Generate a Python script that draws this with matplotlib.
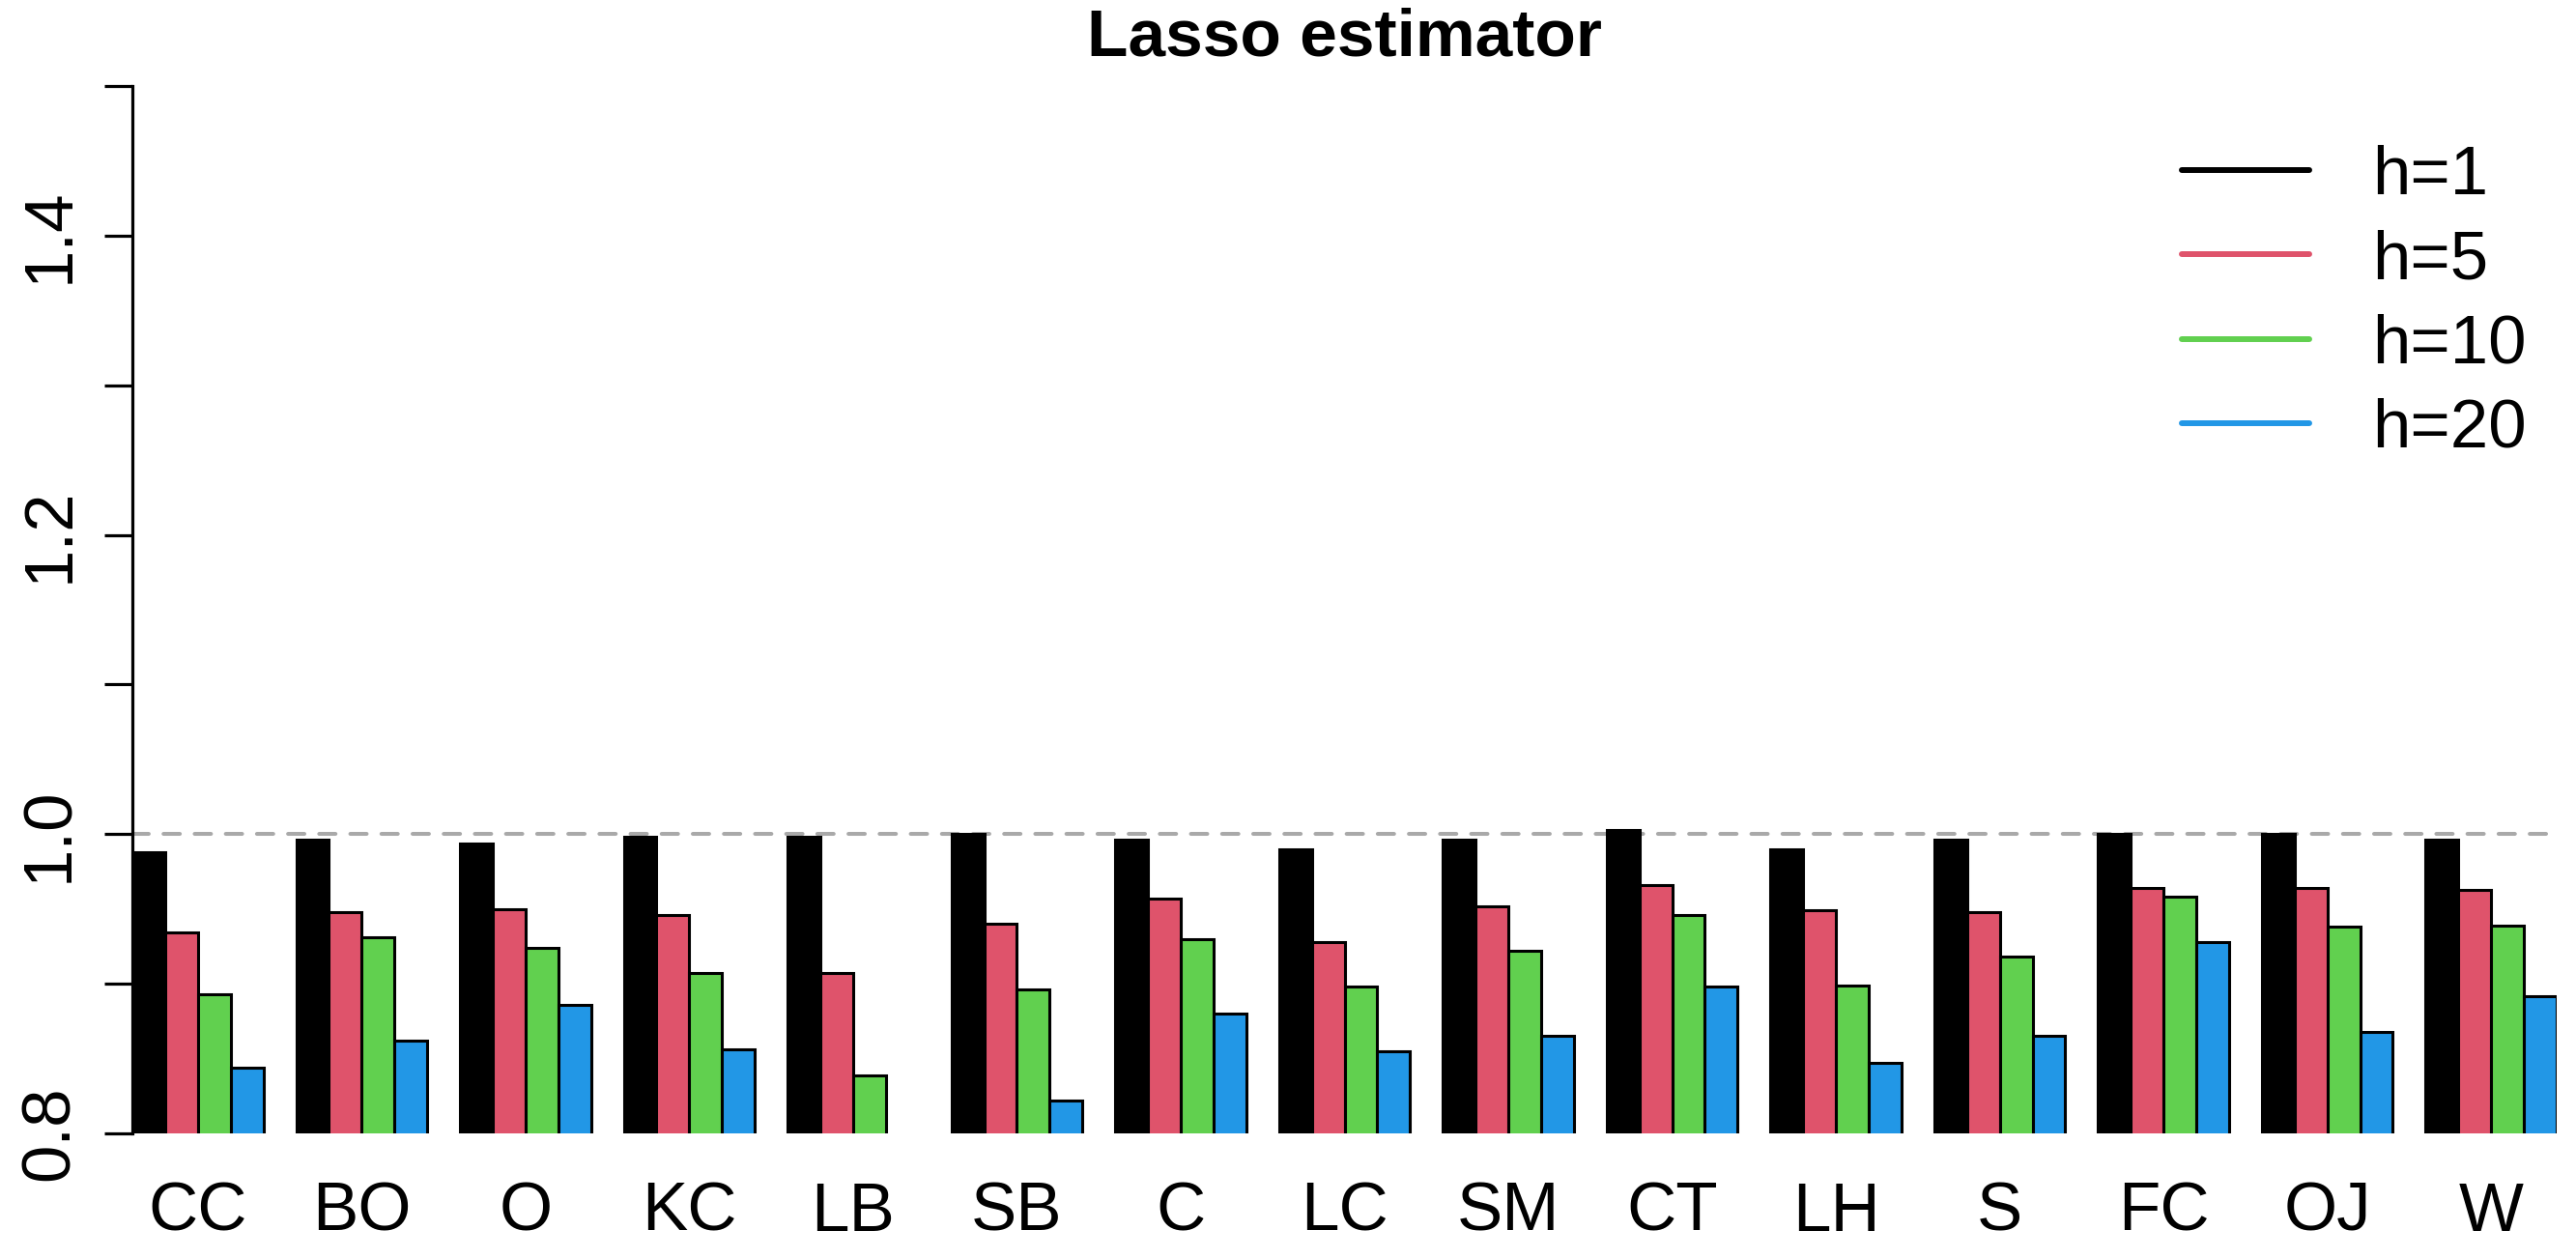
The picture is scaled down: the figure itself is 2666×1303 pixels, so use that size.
import matplotlib
matplotlib.use('Agg')
import matplotlib.pyplot as plt
import numpy as np
from matplotlib.lines import Line2D

plt.rcParams['font.family'] = ['Liberation Sans', 'DejaVu Sans']

categories = ['CC', 'BO', 'O', 'KC', 'LB', 'SB', 'C', 'LC', 'SM', 'CT', 'LH', 'S', 'FC', 'OJ', 'W']
h1 = [0.988, 0.996, 0.994, 0.998, 0.998, 1.000, 0.996, 0.990, 0.996, 1.003, 0.990, 0.996, 1.000, 1.000, 0.996]
h5 = [0.934, 0.948, 0.950, 0.946, 0.907, 0.940, 0.957, 0.928, 0.952, 0.966, 0.949, 0.948, 0.964, 0.964, 0.963]
h10 = [0.893, 0.931, 0.924, 0.907, 0.839, 0.896, 0.930, 0.898, 0.922, 0.946, 0.899, 0.918, 0.958, 0.938, 0.939]
h20 = [0.844, 0.862, 0.886, 0.856, 0.790, 0.822, 0.880, 0.855, 0.865, 0.898, 0.847, 0.865, 0.928, 0.868, 0.892]
series_labels = ['h=1', 'h=5', 'h=10', 'h=20']
colors = ['#000000', '#DF536B', '#61D04F', '#2297E6']

yticks = [0.8, 0.9, 1.0, 1.1, 1.2, 1.3, 1.4, 1.5]
ytick_labels = ['0.8', '', '1.0', '', '1.2', '', '1.4', '']

fig = plt.figure(figsize=(26.66, 13.03), dpi=100)
ax = fig.add_axes([137 / 2666, 1 - 1173 / 1303, (2646 - 137) / 2666, (1173 - 89) / 1303])

series = [h1, h5, h10, h20]
n = len(categories)
group_left = 1 + 5 * np.arange(n)
for j, vals in enumerate(series):
    ax.bar(group_left + j + 0.5, vals, width=1.0, color=colors[j],
           edgecolor='black', linewidth=2.2)

# reference line at 1
ax.axhline(1.0, color='#A9A9A9', linewidth=2.9, linestyle=(0, (4.2, 3.8)),
           dash_capstyle='round', zorder=0.5)

ax.set_xlim(1, 5 * n)
ax.set_ylim(0.8, 1.5)

for s in ['top', 'right', 'bottom']:
    ax.spines[s].set_visible(False)
ax.spines['left'].set_linewidth(2.3)

ax.set_xticks(group_left + 2)
ax.set_xticklabels(categories, fontsize=51)
ax.tick_params(axis='x', length=0, pad=36)

ax.set_yticks(yticks)
ax.set_yticklabels(ytick_labels, fontsize=51, rotation=90, va='center')
ax.tick_params(axis='y', length=21, width=2.3, pad=16)

ax.set_title('Lasso estimator', fontsize=50, fontweight='bold', pad=23)

handles = [Line2D([0], [0], color=c, linewidth=4.3, solid_capstyle='round') for c in colors]
fig.legend(handles, series_labels, loc='upper left', bbox_to_anchor=(2258 / 2666, 1 - 150 / 1303),
           frameon=False, borderpad=0, borderaxespad=0, fontsize=51,
           handlelength=1.86, handletextpad=0.93, labelspacing=0.30)

fig.savefig('out.png', dpi=100)
